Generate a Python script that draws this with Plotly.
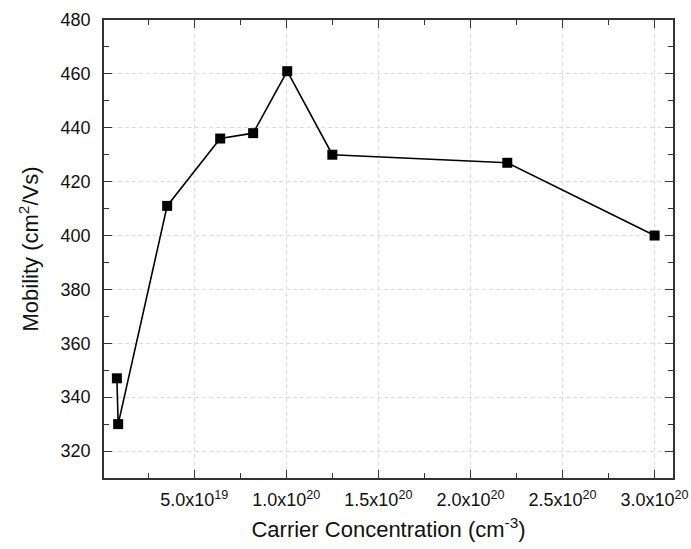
import plotly.graph_objects as go

carrier_conc = [8.0e18, 8.7e18, 3.53e19, 6.41e19, 8.2e19, 1.005e20, 1.25e20, 2.2e20, 3.0e20]
mobility = [347, 330, 411, 436, 438, 461, 430, 427, 400]

x_tickvals = [5e19, 1e20, 1.5e20, 2e20, 2.5e20, 3e20]
x_ticktext = ["5.0x10<sup>19</sup>", "1.0x10<sup>20</sup>", "1.5x10<sup>20</sup>",
              "2.0x10<sup>20</sup>", "2.5x10<sup>20</sup>", "3.0x10<sup>20</sup>"]
y_tickvals = [320, 340, 360, 380, 400, 420, 440, 460, 480]

font_family = "Liberation Sans, Arial, sans-serif"

fig = go.Figure()
fig.add_trace(go.Scatter(
    x=carrier_conc, y=mobility, mode="lines+markers",
    line=dict(color="black", width=1.6),
    marker=dict(symbol="square", size=10, color="black"),
    showlegend=False,
))

axis_common = dict(
    showline=True, linecolor="#333333", linewidth=1.5, mirror="ticks",
    ticks="inside", ticklen=8, tickwidth=1.2, tickcolor="#333333",
    showgrid=True, gridcolor="#dcdcdc", griddash="4px,3px", gridwidth=1,
    zeroline=False, automargin=False,
    tickfont=dict(family=font_family, size=18, color="#111111"),
)

fig.update_layout(
    width=691, height=549,
    margin=dict(l=104, r=18, t=20, b=71),
    plot_bgcolor="white", paper_bgcolor="white",
    font=dict(family=font_family, color="#111111"),
    xaxis=dict(
        range=[1e18, 3.1e20], tickmode="array", tickvals=x_tickvals, ticktext=x_ticktext,
        minor=dict(ticks="inside", ticklen=5, tickcolor="#333333", showgrid=False, dtick=2.5e19, tick0=0),
        title=dict(text="Carrier Concentration (cm<sup>-3</sup>)", font=dict(family=font_family, size=22), standoff=12),
        ticklabelstandoff=5,
        **axis_common,
    ),
    yaxis=dict(
        range=[310, 480], tickmode="array", tickvals=y_tickvals,
        minor=dict(ticks="inside", ticklen=5, tickcolor="#333333", showgrid=False, dtick=10, tick0=310),
        title=dict(text="Mobility (cm<sup>2</sup>/Vs)", font=dict(family=font_family, size=22), standoff=16),
        ticklabelstandoff=8,
        **axis_common,
    ),
)

fig.write_html("out.html", config={"displayModeBar": False},
               post_script="document.body.style.margin='0';")
